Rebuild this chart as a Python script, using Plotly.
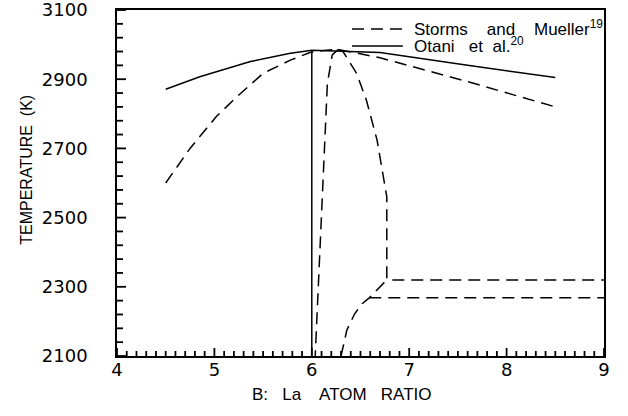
import plotly.graph_objects as go

# Otani et al. (solid)
otani_x = [4.5, 4.85, 5.37, 5.78, 6.0, 6.7, 7.6, 8.5]
otani_T = [2871, 2907, 2951, 2975, 2984, 2977, 2940, 2905]
otani_vert_x = [6.0, 6.0]
otani_vert_T = [2984, 2100]

# Storms and Mueller (dashed)
liq_x = [4.5, 4.75, 5.02, 5.23, 5.50, 5.78, 5.98, 6.15, 6.27, 6.7, 7.6, 8.5]
liq_T = [2600, 2700, 2792, 2849, 2917, 2955, 2977, 2984, 2986, 2962, 2893, 2820]
sol_left_x = [6.27, 6.21, 6.16, 6.135, 6.08, 6.04, 6.035]
sol_left_T = [2986, 2970, 2888, 2724, 2406, 2117, 2100]
sol_right_x = [6.27, 6.32, 6.46, 6.56, 6.67, 6.73, 6.77, 6.77, 9.0]
sol_right_T = [2986, 2980, 2917, 2840, 2724, 2618, 2560, 2320, 2320]
low_x = [6.3, 6.36, 6.44, 6.52, 6.59, 6.77]
low_T = [2100, 2175, 2222, 2252, 2268, 2320]
low_h_x = [6.59, 9.0]
low_h_T = [2268, 2268]

x_ticks = [4, 5, 6, 7, 8, 9]
y_ticks = [2100, 2300, 2500, 2700, 2900, 3100]
x_minor_step = 0.1
y_minor_step = 40

X_RANGE = [4, 9]
Y_RANGE = [2100, 3100]
W, H = 628, 416
M = dict(l=117, r=24, t=10, b=60)
px_x = (W - M["l"] - M["r"]) / (X_RANGE[1] - X_RANGE[0])
px_y = (H - M["t"] - M["b"]) / (Y_RANGE[1] - Y_RANGE[0])

DASH = "12px,7px"
fig = go.Figure()
solid = dict(color="black", width=1.5)
dashed = dict(color="black", width=1.5, dash=DASH)
for xs, ys, ln in [
    (otani_x, otani_T, solid),
    (otani_vert_x, otani_vert_T, solid),
    (liq_x, liq_T, dashed),
    (sol_left_x, sol_left_T, dashed),
    (sol_right_x, sol_right_T, dashed),
    (low_x, low_T, dashed),
    (low_h_x, low_h_T, dashed),
]:
    fig.add_trace(go.Scatter(x=xs, y=ys, mode="lines", line=ln,
                             showlegend=False, hoverinfo="skip"))

# inward tick marks (major + minor) along the bottom and left axes
def tick_segments(major_len, minor_len):
    tx, ty = [], []
    n_xm = round((X_RANGE[1] - X_RANGE[0]) / x_minor_step)
    for i in range(n_xm + 1):
        v = X_RANGE[0] + i * x_minor_step
        major = any(abs(v - t) < 1e-6 for t in x_ticks)
        L = (major_len[0] if major else minor_len[0]) / px_y
        tx += [v, v, None]
        ty += [Y_RANGE[0], Y_RANGE[0] + L, None]
    n_ym = round((Y_RANGE[1] - Y_RANGE[0]) / y_minor_step)
    for i in range(n_ym + 1):
        v = Y_RANGE[0] + i * y_minor_step
        major = any(abs(v - t) < 1e-6 for t in y_ticks)
        L = (major_len[1] if major else minor_len[1]) / px_x
        tx += [X_RANGE[0], X_RANGE[0] + L, None]
        ty += [v, v, None]
    return tx, ty

tx, ty = tick_segments((8, 9), (5, 6))
fig.add_trace(go.Scatter(x=tx, y=ty, mode="lines", connectgaps=False,
                         line=dict(color="black", width=1.8, simplify=False),
                         showlegend=False, hoverinfo="skip"))

tickfont = dict(family="DejaVu Sans", size=18, color="black")
common = dict(showgrid=False, zeroline=False, automargin=False,
              showline=True, linewidth=1.5, linecolor="black", mirror=True,
              tickfont=tickfont, ticks="")
fig.update_layout(
    xaxis=dict(range=X_RANGE, tickmode="array", tickvals=x_ticks,
               ticklabelstandoff=-3, **common),
    yaxis=dict(range=Y_RANGE, tickmode="array", tickvals=y_ticks,
               ticklabelstandoff=24, ticklabeloverflow="allow", **common),
)

titlefont = dict(family="Liberation Sans", size=17, color="black")
fig.add_annotation(text="B:   La    ATOM   RATIO", x=0.462, y=-0.110,
                   xref="paper", yref="paper", showarrow=False, font=titlefont,
                   xanchor="center", yanchor="middle")
fig.add_annotation(text="TEMPERATURE  (K)", x=-0.185, y=0.538, xref="paper",
                   yref="paper", showarrow=False,
                   font=dict(family="Liberation Sans", size=16, color="black"),
                   textangle=-90, xanchor="center", yanchor="middle")

# legend
legfont = dict(family="Liberation Sans", size=17, color="black")
fig.add_shape(type="line", xref="paper", yref="paper", x0=0.4825, x1=0.587,
              y0=0.945, y1=0.945, line=dict(color="black", width=1.5, dash=DASH))
fig.add_shape(type="line", xref="paper", yref="paper", x0=0.4825, x1=0.587,
              y0=0.896, y1=0.896, line=dict(color="black", width=1.5))
fig.add_annotation(text="Storms    and    Mueller<sup>19</sup>", x=0.606,
                   y=0.948, xref="paper", yref="paper", showarrow=False,
                   font=legfont, xanchor="left", yanchor="middle")
fig.add_annotation(text="Otani   et  al.<sup>20</sup>", x=0.606, y=0.899,
                   xref="paper", yref="paper", showarrow=False, font=legfont,
                   xanchor="left", yanchor="middle")

fig.update_layout(width=W, height=H, margin=M,
                  plot_bgcolor="white", paper_bgcolor="white", showlegend=False)
# remove the browser's default 8px body margin so the figure sits at (0, 0)
fig.write_html("out.html", config={"displayModeBar": False},
               post_script="document.body.style.margin='0px';")
